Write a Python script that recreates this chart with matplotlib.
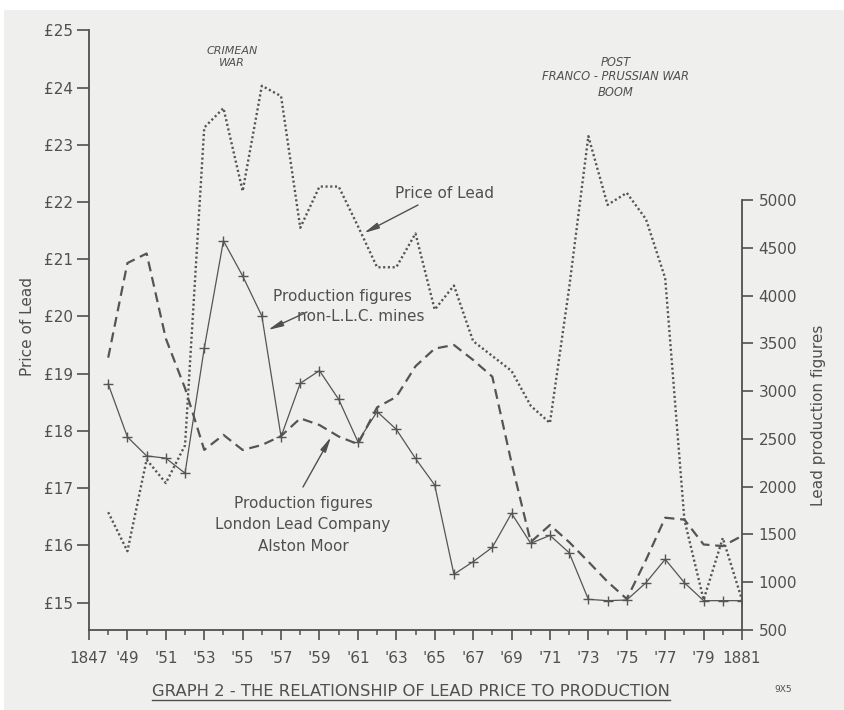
import matplotlib
matplotlib.use("Agg")
import matplotlib.pyplot as plt
from matplotlib.ticker import MultipleLocator, FixedLocator, FixedFormatter
from matplotlib.lines import Line2D
from matplotlib.patches import Rectangle

# ---------------- data ----------------
years = list(range(1848, 1882))
price_of_lead = [16.58, 15.90, 17.50, 17.09, 17.75, 23.30, 23.64, 22.19, 24.03, 23.85,
                 21.55, 22.27, 22.27, 21.58, 20.86, 20.86, 21.45, 20.12, 20.54, 19.57,
                 19.31, 19.05, 18.44, 18.14, 20.50, 23.15, 21.95, 22.16, 21.70, 20.67,
                 16.45, 15.05, 16.13, 15.05]
non_llc_production = [3350, 4340, 4440, 3550, 3030, 2385, 2542, 2384, 2436, 2530,
                      2715, 2645, 2525, 2445, 2830, 2940, 3260, 3445, 3483, 3326,
                      3151, 2250, 1420, 1599, 1420, 1215, 1005, 825, 1233, 1675,
                      1655, 1395, 1378, 1485]
llc_production = [3074, 2520, 2322, 2298, 2141, 3448, 4574, 4205, 3786, 2523,
                  3082, 3214, 2914, 2471, 2785, 2600, 2295, 2017, 1083, 1215,
                  1365, 1721, 1407, 1490, 1309, 821, 807, 814, 995, 1240,
                  995, 807, 807, 807]

price_ticks = [15, 16, 17, 18, 19, 20, 21, 22, 23, 24, 25]
price_labels = ["£15", "£16", "£17", "£18", "£19", "£20", "£21", "£22", "£23", "£24", "£25"]
prod_ticks = [500, 1000, 1500, 2000, 2500, 3000, 3500, 4000, 4500, 5000]
year_ticks = list(range(1847, 1882, 2))
year_labels = ["1847"] + ["'%02d" % (y % 100) for y in range(1849, 1881, 2)] + ["1881"]

# ---------------- style ----------------
plt.rcParams['font.family'] = ['DejaVu Sans']
INK = "#505050"
LINE = "#555555"
BG = "#efefee"
W, H = 844, 710

fig = plt.figure(figsize=(W / 100, H / 100), dpi=100, facecolor=BG)
# white margins at the top / left of the scan
fig.patches.append(Rectangle((0, 1 - 10 / H), 1, 10 / H, transform=fig.transFigure,
                             facecolor="white", edgecolor="none", zorder=-1))
fig.patches.append(Rectangle((0, 0), 4 / W, 1, transform=fig.transFigure,
                             facecolor="white", edgecolor="none", zorder=-1))

L, R, B, T = 89, 742, 630, 30
ax = fig.add_axes([L / W, 1 - B / H, (R - L) / W, (B - T) / H])
ax.set_facecolor("none")
ax2 = ax.twinx()
ax2.set_facecolor("none")

# series
ax.plot(years, price_of_lead, color=LINE, lw=1.7, linestyle=(0, (0.9, 1.1)),
        dash_capstyle="butt", zorder=3)
ax2.plot(years, non_llc_production, color=LINE, lw=1.6, linestyle=(0, (4.5, 2.6)), zorder=3)
ax2.plot(years, llc_production, color=LINE, lw=0.9, marker="+", markersize=7,
         markeredgewidth=1.0, zorder=4)

# axes limits
ax.set_xlim(1847, 1881)
ax.set_ylim(14.523, 25.005)
ax2.set_ylim(500, 6779)

# spines
for a in (ax, ax2):
    for s in a.spines.values():
        s.set_color(INK)
        s.set_linewidth(1.3)
    a.spines["top"].set_visible(False)
ax.spines["right"].set_visible(False)
ax2.spines["left"].set_visible(False)
ax2.spines["bottom"].set_visible(False)
ax2.spines["right"].set_bounds(500, 5000)
ax.spines["left"].set_bounds(14.523, 25.0)

# ticks
ax.yaxis.set_major_locator(FixedLocator(price_ticks))
ax.yaxis.set_major_formatter(FixedFormatter(price_labels))
ax.xaxis.set_major_locator(FixedLocator(year_ticks))
ax.xaxis.set_major_formatter(FixedFormatter(year_labels))
ax.xaxis.set_minor_locator(MultipleLocator(1))
ax2.yaxis.set_major_locator(FixedLocator(prod_ticks))

ax.tick_params(axis="y", which="major", direction="out", length=8.5, width=1.2,
               color=INK, labelcolor=INK, labelsize=11, pad=3)
ax.tick_params(axis="x", which="major", direction="out", length=7, width=1.2,
               color=INK, labelcolor=INK, labelsize=11, pad=8)
ax.tick_params(axis="x", which="minor", direction="out", length=3.5, width=1.1, color=INK)
ax2.tick_params(axis="y", which="major", direction="out", length=8, width=1.2,
                color=INK, labelcolor=INK, labelsize=11, pad=4)

# axis labels
fig.text(28 / W, 1 - 326 / H, "Price of Lead", rotation=90, ha="center", va="center",
         fontsize=11, color=INK)
fig.text(818 / W, 1 - 415 / H, "Lead production figures", rotation=90, ha="center",
         va="center", fontsize=11, color=INK)

def fp(x, y):
    return (x / W, 1 - y / H)

# annotations
fig.text(*fp(232, 57), "CRIMEAN\nWAR", ha="center", va="center", fontsize=8,
         style="italic", color=INK, linespacing=1.3)
fig.text(*fp(616, 77), "POST\nFRANCO - PRUSSIAN WAR\nBOOM", ha="center", va="center",
         fontsize=8.3, style="italic", color=INK, linespacing=1.2)

fig.text(*fp(395, 194), "Price of Lead", ha="left", va="center", fontsize=11, color=INK)
fig.text(*fp(273, 297), "Production figures", ha="left", va="center", fontsize=11, color=INK)
fig.text(*fp(297, 316), "non-L.L.C. mines", ha="left", va="center", fontsize=11, color=INK)
fig.text(*fp(303, 525), "Production figures\nLondon Lead Company\nAlston Moor", ha="center",
         va="center", fontsize=11, color=INK, linespacing=1.55)

arrow_kw = dict(arrowstyle="-|>,head_length=0.9,head_width=0.18", color=INK, lw=1.0,
                shrinkA=0, shrinkB=0)
for start, end in [((418, 205), (364, 233)),
                   ((307, 312), (268, 330)),
                   ((303, 487), (331, 437))]:
    ax.annotate("", xy=fp(*end), xycoords="figure fraction",
                xytext=fp(*start), textcoords="figure fraction", arrowprops=arrow_kw)

# title with underline
title = fig.text(*fp(411, 691), "GRAPH 2 - THE RELATIONSHIP OF LEAD PRICE TO PRODUCTION",
                 ha="center", va="center", fontsize=11.8, color=INK)
fig.canvas.draw()
bb = title.get_window_extent(renderer=fig.canvas.get_renderer())
uy = bb.y0 - 1
fig.add_artist(Line2D([bb.x0 / W, bb.x1 / W], [uy / H, uy / H], color=INK, lw=1.0,
                      transform=fig.transFigure))
fig.text(*fp(783, 690), "9X5", ha="center", va="center", fontsize=6.5, color=INK)

fig.savefig("out.png", dpi=100, facecolor=BG)
